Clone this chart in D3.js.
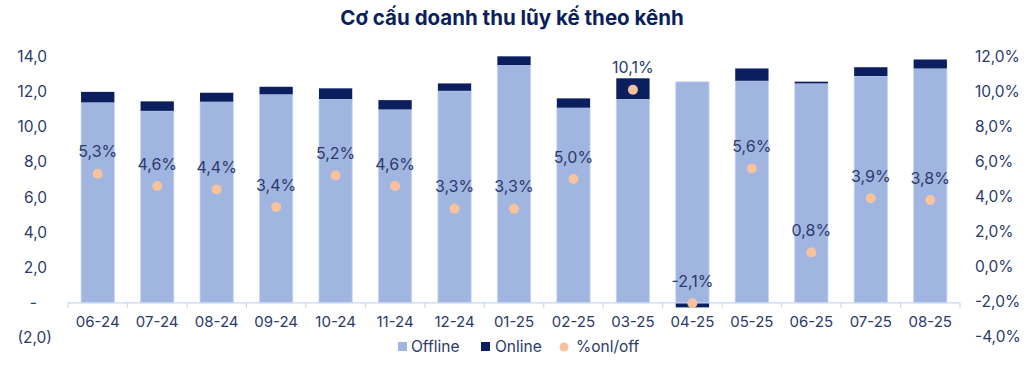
<!DOCTYPE html>
<html><head><meta charset="utf-8">
<script src="https://cdn.jsdelivr.net/npm/d3@7"></script>
<style>body{margin:0;background:#fff}svg{display:block;font-family:Inter,"Noto Sans",sans-serif}</style>
</head><body><svg id="c" width="1035" height="367"></svg>
<script>
const categories = ["06-24","07-24","08-24","09-24","10-24","11-24","12-24","01-25","02-25","03-25","04-25","05-25","06-25","07-25","08-25"];
const offline = [11.39,10.91,11.43,11.85,11.58,10.99,12.05,13.51,11.09,11.58,12.56,12.62,12.47,12.89,13.32];
const online = [0.6,0.54,0.51,0.43,0.61,0.53,0.42,0.5,0.53,1.18,-0.26,0.7,0.1,0.5,0.51];
const ratio = [5.3,4.6,4.4,3.4,5.2,4.6,3.3,3.3,5.0,10.1,-2.1,5.6,0.8,3.9,3.8];
const leftTicks = [-2,0,2,4,6,8,10,12,14];
const rightTicks = [-4,-2,0,2,4,6,8,10,12];
const title = "Cơ cấu doanh thu lũy kế theo kênh";

(function(){
const svg = d3.select("#c");
const x = d3.scaleBand().domain(categories).range([68,960]).paddingInner(0.44).paddingOuter(0.22);
const y = d3.scaleLinear().domain([-2,14]).range([338,56.5]);
const y2 = d3.scaleLinear().domain([-4,12]).range([336.5,56.5]);
const cOff = "#a1b5e1", cOn = "#0b1f5e", cDot = "#f8c29c", cText = "#2b3a6b";
const f1 = v => d3.format(".1f")(v).replace("−","-").replace(".",",");

svg.append("text").attr("x",512).attr("y",25).attr("text-anchor","middle")
  .attr("font-size",20.5).attr("font-weight",700).attr("fill","#0b1f5e").text(title);

// left axis (accounting style)
svg.append("g").selectAll("text").data(leftTicks).join("text")
  .attr("x",d=> d<0 ? 52 : (d===0 ? 37 : 47)).attr("y",d=>y(d)).attr("dy","0.35em").attr("text-anchor","end")
  .attr("font-size",15.5).attr("fill",cText)
  .text(d=> d===0 ? "-" : (d<0 ? "("+f1(-d)+")" : f1(d)));
// right axis
svg.append("g").selectAll("text").data(rightTicks).join("text")
  .attr("x",975).attr("y",d=>y2(d)).attr("dy","0.35em").attr("text-anchor","start")
  .attr("font-size",15.5).attr("fill",cText).text(d=>f1(d)+"%");

// bars
const g = svg.append("g");
g.selectAll("rect.off").data(categories).join("rect").attr("class","off")
  .attr("x",d=>x(d)).attr("width",x.bandwidth())
  .attr("y",(d,i)=>y(offline[i])).attr("height",(d,i)=>y(0)-y(offline[i]))
  .attr("fill",cOff).attr("stroke","#c9d6f2").attr("stroke-width",0.8);
g.selectAll("rect.on").data(categories).join("rect").attr("class","on")
  .attr("x",d=>x(d)).attr("width",x.bandwidth())
  .attr("y",(d,i)=> online[i]>=0 ? y(offline[i]+online[i]) : y(0))
  .attr("height",(d,i)=> online[i]>=0 ? y(offline[i])-y(offline[i]+online[i]) : y(online[i])-y(0))
  .attr("fill",cOn);

// category axis
const y0 = y(0);
svg.append("line").attr("x1",68).attr("x2",960).attr("y1",y0).attr("y2",y0).attr("stroke","#c9d6f2").attr("stroke-width",1.2);
const tickXs = categories.map(c=>x(c)-x.step()*x.paddingInner()/2).concat([960]);
svg.append("g").selectAll("line").data(tickXs).join("line")
  .attr("x1",d=>d).attr("x2",d=>d).attr("y1",y0).attr("y2",y0+5).attr("stroke","#c9d6f2").attr("stroke-width",1.2);
svg.append("g").selectAll("text").data(categories).join("text")
  .attr("x",d=>x(d)+x.bandwidth()/2).attr("y",322).attr("dy","0.35em").attr("text-anchor","middle")
  .attr("font-size",15).attr("fill",cText).text(d=>d);

// ratio dots + labels
svg.append("g").selectAll("circle").data(categories).join("circle")
  .attr("cx",d=>x(d)+x.bandwidth()/2).attr("cy",(d,i)=>y2(ratio[i])).attr("r",5).attr("fill",cDot);
svg.append("g").selectAll("text").data(categories).join("text")
  .attr("x",d=>x(d)+x.bandwidth()/2).attr("y",(d,i)=>y2(ratio[i])-16.5).attr("text-anchor","middle")
  .attr("font-size",16).attr("fill",cText).text((d,i)=>f1(ratio[i])+"%");

// legend
const lg = svg.append("g").attr("font-size",15.5).attr("fill",cText);
lg.append("rect").attr("x",398).attr("y",342).attr("width",9).attr("height",9).attr("fill",cOff);
lg.append("text").attr("x",411).attr("y",347).attr("dy","0.35em").text("Offline");
lg.append("rect").attr("x",481).attr("y",342).attr("width",9).attr("height",9).attr("fill",cOn);
lg.append("text").attr("x",495).attr("y",347).attr("dy","0.35em").text("Online");
lg.append("circle").attr("cx",564).attr("cy",347).attr("r",4.5).attr("fill",cDot);
lg.append("text").attr("x",576).attr("y",347).attr("dy","0.35em").text("%onl/off");
})();
</script></body></html>
